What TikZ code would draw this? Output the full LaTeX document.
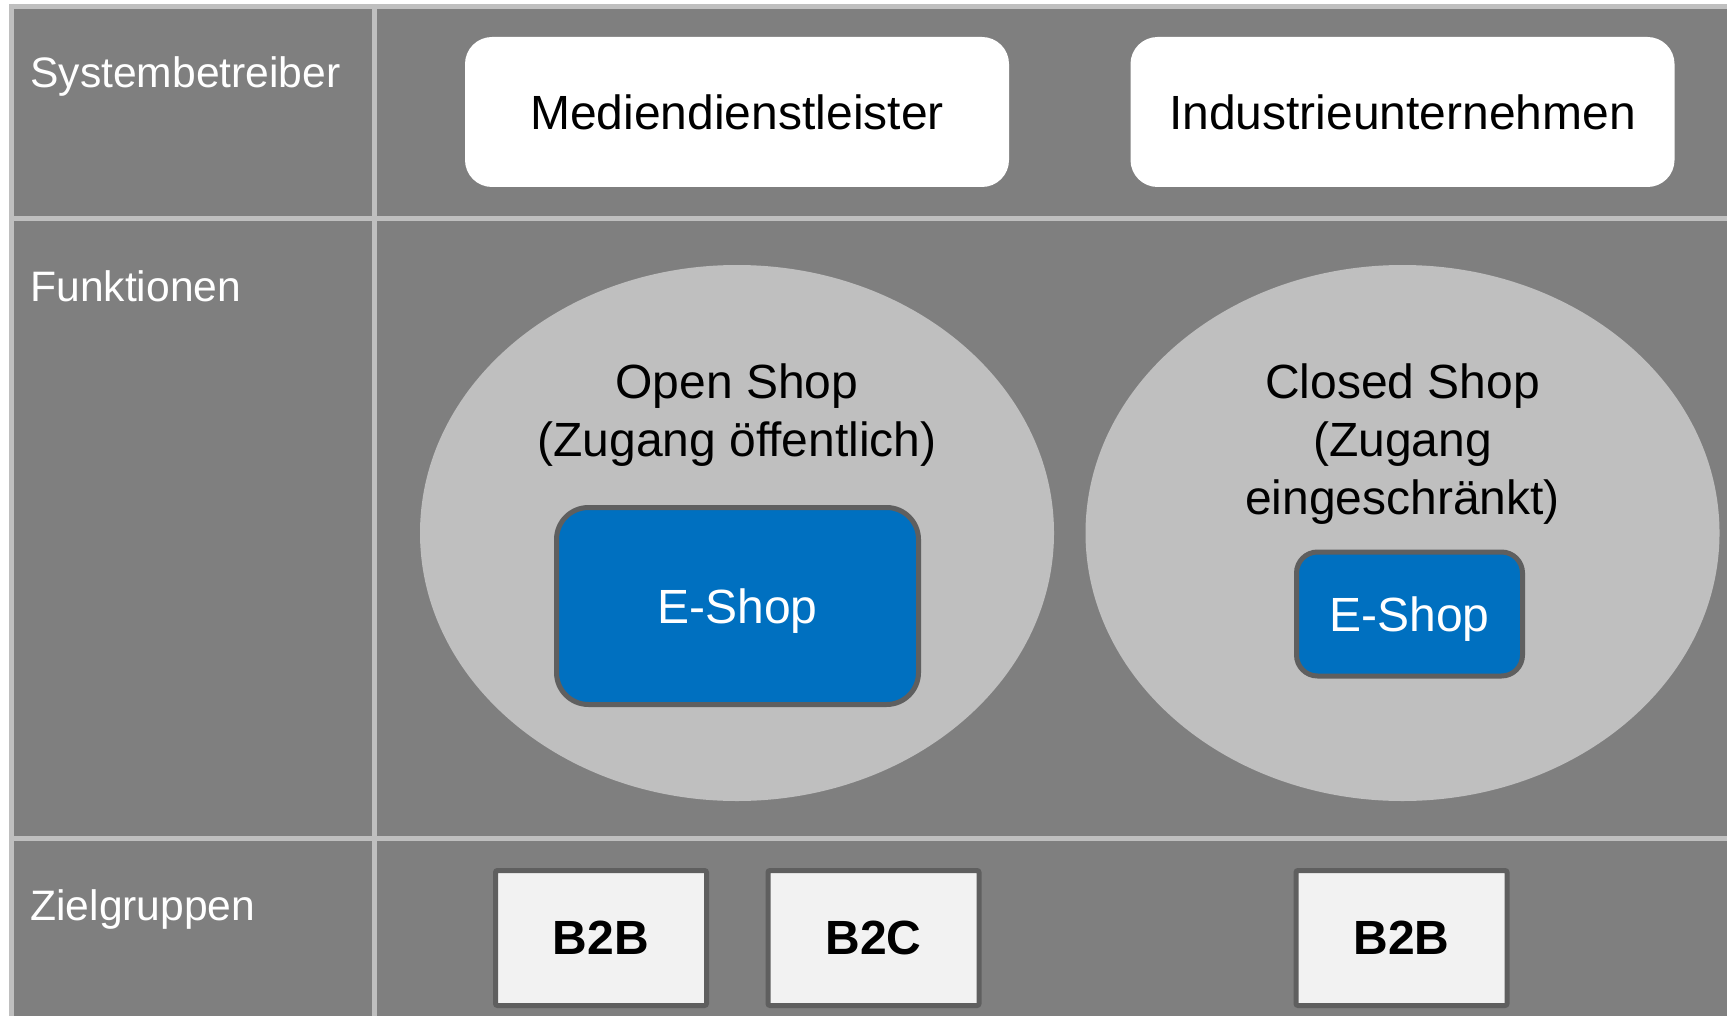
\documentclass[tikz,border=0pt]{standalone}
\usepackage{fontspec}
\setmainfont{Liberation Sans}
\usepackage{tikz}
\usetikzlibrary{positioning}
\usetikzlibrary{shapes.geometric}
\definecolor{cellgray}{HTML}{7F7F7F}
\definecolor{rulegray}{HTML}{BFBFBF}
\definecolor{shopblue}{HTML}{0070C0}
\definecolor{edgegray}{HTML}{5F5F5F}
\definecolor{targetfill}{HTML}{F2F2F2}
\tikzset{%
  every rowlabel/.style={
    anchor=base west,
    text=white,
    inner sep=0pt,
    font=\fontsize{21.3}{25.6}\selectfont
  },
  operator/.style={
    rectangle,
    rounded corners=13.5pt,
    fill=white,
    minimum width=272pt,
    minimum height=75pt,
    font=\fontsize{24}{29}\selectfont
  },
  shopzone/.style={
    ellipse,
    fill=rulegray,
    inner sep=0pt,
    minimum width=317pt,
    minimum height=268pt
  },
  zonetitle/.style={
    align=center,
    inner sep=0pt,
    font=\fontsize{24}{29}\selectfont
  },
  eshop/.style={
    rectangle,
    draw=edgegray,
    line width=2.5pt,
    fill=shopblue,
    text=white,
    text depth=0pt,
    font=\fontsize{24}{29}\selectfont
  },
  target/.style={
    rectangle,
    rounded corners=1pt,
    draw=edgegray,
    line width=2.5pt,
    fill=targetfill,
    minimum width=105.5pt,
    minimum height=67.5pt,
    font=\fontsize{24}{29}\selectfont\bfseries
  },
}

\begin{document}
\begin{tikzpicture}[x=0.5pt, y=-0.5pt]
\useasboundingbox (0,0) rectangle (1727,1016);
\fill[white] (0,0) rectangle (1727,1016);
% table
\fill[cellgray] (11.7,6.5) rectangle (1727,1016);
\draw[rulegray, line width=2.5pt] (9.2,6.5) -- (1727,6.5);
\draw[rulegray, line width=2.5pt] (11.7,4) -- (11.7,1016);
\draw[rulegray, line width=2.5pt] (374.2,6.5) -- (374.2,1016);
\foreach \y in {218.4,838.5}
    \draw[rulegray, line width=2.5pt] (11.7,\y) -- (1727,\y);
\foreach \name/\y/\txt in {operators/88/Systembetreiber, functions/301/Funktionen, targets/920/Zielgruppen}
    \node[every rowlabel] (label_\name) at (30,\y) {\txt};
% Systembetreiber
\node[operator] (media) at (737,112) {Mediendienstleister};
\node[operator] (industry) at (1402.5,112) {Industrieunternehmen};
% Funktionen
\node[shopzone] (open_zone) at (737,533) {};
\node[shopzone] (closed_zone) at (1402.5,533) {};
\node[zonetitle] (open_title) at (737,415.5) {Open Shop\\(Zugang öffentlich)};
\node[zonetitle] (closed_title) at (1402.5,444.5) {Closed Shop\\(Zugang\\eingeschränkt)};
\node[eshop, rounded corners=16pt, minimum width=181pt, minimum height=98.5pt] (open_shop) at (737.5,606) {E-Shop};
\node[eshop, rounded corners=10.5pt, minimum width=113pt, minimum height=62pt] (closed_shop) at (1409.5,614) {E-Shop};
% Zielgruppen
\foreach \name/\x/\txt in {open_b2b/601/B2B, open_b2c/873.5/B2C, closed_b2b/1401.5/B2B}
    \node[target] (\name) at (\x,938) {\txt};
\end{tikzpicture}
\end{document}
